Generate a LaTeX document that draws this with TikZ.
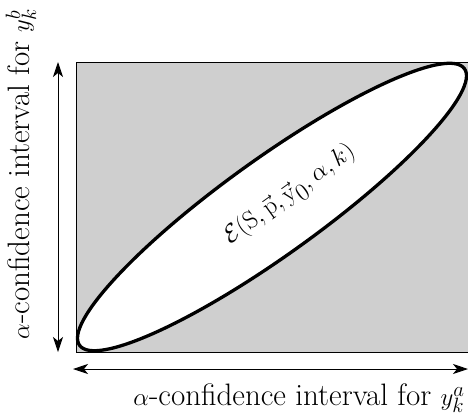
\documentclass[tikz,border=0pt]{standalone}
\usetikzlibrary{arrows.meta}
\begin{document}
\begin{tikzpicture}[x=1pt,y=-1pt,
  arr/.style={line width=0.9pt, {Stealth[length=15pt,width=10pt,inset=4pt]}-{Stealth[length=15pt,width=10pt,inset=4pt]}},
  lbl/.style={font=\fontsize{31}{36}\selectfont, inner sep=0pt}]
\useasboundingbox (0,0) rectangle (468,418);
\coordinate (c) at (272,207);
\fill[black!19] (76,62) rectangle (470,352);
\draw[line width=1pt] (470,62) -- (76,62) -- (76,352) -- (470,352);
\draw[line width=3.3pt, fill=white, rotate around={35.7:(c)}] (c) ellipse [x radius=237pt, y radius=48pt];
\node[lbl, font=\fontsize{33}{38}\selectfont, rotate=35.7] (e) at (290,195) {$\mathcal{E}(\mathrm{S},\vec{\mathrm{p}},\vec{\mathrm{y}}_0,\alpha,k)$};
\coordinate (vt) at (58,62);
\coordinate (vb) at (58,352);
\coordinate (hl) at (73,369);
\coordinate (hr) at (468,369);
\draw[arr] (vb) -- (vt);
\draw[arr] (hl) -- (hr);
\node[lbl, rotate=90] (ly) at (21,174) {$\alpha$-confidence interval for $y_k^b$};
\node[lbl] (lx) at (299,398) {$\alpha$-confidence interval for $y_k^a$};
\end{tikzpicture}
\end{document}
